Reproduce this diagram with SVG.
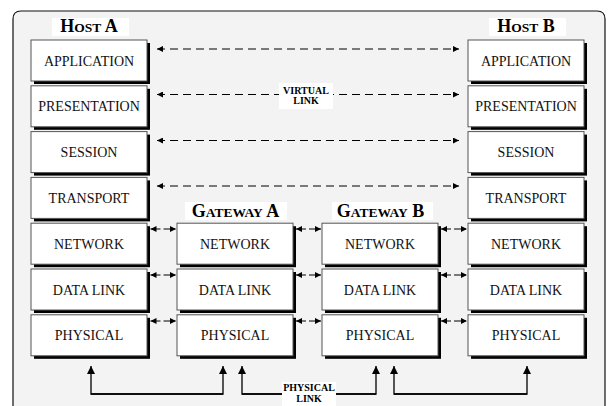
<svg xmlns="http://www.w3.org/2000/svg" width="608" height="406" viewBox="0 0 608 406">
  <defs>
    <style>
      .frame { fill: #f3f3f3; stroke: #111; stroke-width: 1.2; }
      .shadow { fill: #000; }
      .box { fill: #fff; stroke: #555; stroke-width: 1; }
      .lbl { font-family: "Liberation Serif", "Times New Roman", serif; font-size: 14px; fill: #111; text-anchor: middle; }
      .title { font-family: "Liberation Serif", "Times New Roman", serif; font-weight: bold; font-size: 18px; fill: #000; text-anchor: middle; }
      .title .sc { font-size: 13.5px; }
      .tag { font-family: "Liberation Serif", "Times New Roman", serif; font-weight: bold; font-size: 10px; fill: #000; text-anchor: middle; }
      .bg { fill: #fff; }
      .vlink { stroke: #000; stroke-width: 1.1; stroke-dasharray: 8 5; fill: none; marker-start: url(#head); marker-end: url(#head); }
      .hop { stroke: #000; stroke-width: 1.1; stroke-dasharray: 10 3 12; fill: none; marker-start: url(#head); marker-end: url(#head); }
      .plink { stroke: #000; stroke-width: 1.3; fill: none; marker-end: url(#headB); }
    </style>
    <marker id="head" viewBox="0 0 10 10" refX="10" refY="5" markerWidth="7" markerHeight="6" markerUnits="userSpaceOnUse" orient="auto-start-reverse">
      <path d="M0,0 L10,5 L0,10 z" fill="#000"/>
    </marker>
    <marker id="headB" viewBox="0 0 10 10" refX="10" refY="5" markerWidth="9" markerHeight="8" markerUnits="userSpaceOnUse" orient="auto">
      <path d="M0,0 L10,5 L0,10 z" fill="#000"/>
    </marker>
  </defs>

  <rect width="608" height="406" fill="#fff"/>
  <!-- outer frame, open past the bottom edge -->
  <path class="frame" d="M13,420 L13,19 Q13,11 21,11 L597,11 Q605,11 605,19 L605,420"/>

  <!-- connectors -->
  <g id="connectors">
    <!-- virtual links between host layers -->
    <line class="vlink" x1="157" y1="49" x2="459" y2="49"/>
    <line class="vlink" x1="157" y1="94.5" x2="459" y2="94.5"/>
    <line class="vlink" x1="157" y1="140.5" x2="459" y2="140.5"/>
    <line class="vlink" x1="157" y1="186" x2="459" y2="186"/>

    <!-- hop-by-hop exchanges between neighbouring stacks -->
    <line class="hop" x1="150.5" y1="229" x2="176" y2="229"/>
    <line class="hop" x1="150.5" y1="275" x2="176" y2="275"/>
    <line class="hop" x1="150.5" y1="321" x2="176" y2="321"/>
    <line class="hop" x1="296" y1="229" x2="321" y2="229"/>
    <line class="hop" x1="296" y1="275" x2="321" y2="275"/>
    <line class="hop" x1="296" y1="321" x2="321" y2="321"/>
    <line class="hop" x1="441" y1="229" x2="467" y2="229"/>
    <line class="hop" x1="441" y1="275" x2="467" y2="275"/>
    <line class="hop" x1="441" y1="321" x2="467" y2="321"/>

    <!-- physical links -->
    <path class="plink" d="M91,394 L223,394 L223,366"/>
    <path class="plink" d="M223,394 L91,394 L91,366"/>
    <path class="plink" d="M242,394 L376,394 L376,366"/>
    <path class="plink" d="M376,394 L242,394 L242,366"/>
    <path class="plink" d="M394,394 L527,394 L527,366"/>
    <path class="plink" d="M527,394 L394,394 L394,366"/>

    <rect class="bg" x="279" y="83" width="54" height="26"/>
    <text class="tag" x="306" y="93.5">VIRTUAL</text>
    <text class="tag" x="306" y="104">LINK</text>

    <rect class="bg" x="282" y="382" width="54" height="26"/>
    <text class="tag" x="309" y="391">PHYSICAL</text>
    <text class="tag" x="309" y="402">LINK</text>
  </g>

  <!-- Host A -->
  <g id="host-a">
    <rect class="bg" x="52" y="18" width="77" height="18"/>
    <text class="title" x="89" y="32.3">H<tspan class="sc">OST</tspan> A</text>
    <g id="host-a-application"><rect class="shadow" x="34" y="43" width="116" height="41"/><rect class="box" x="31" y="40" width="116" height="41"/><text class="lbl" x="89" y="65.5">APPLICATION</text></g>
    <g id="host-a-presentation"><rect class="shadow" x="34" y="88.8" width="116" height="41"/><rect class="box" x="31" y="85.8" width="116" height="41"/><text class="lbl" x="89" y="111.3">PRESENTATION</text></g>
    <g id="host-a-session"><rect class="shadow" x="34" y="134.6" width="116" height="41"/><rect class="box" x="31" y="131.6" width="116" height="41"/><text class="lbl" x="89" y="157.1">SESSION</text></g>
    <g id="host-a-transport"><rect class="shadow" x="34" y="180.4" width="116" height="41"/><rect class="box" x="31" y="177.4" width="116" height="41"/><text class="lbl" x="89" y="202.9">TRANSPORT</text></g>
    <g id="host-a-network"><rect class="shadow" x="34" y="226.2" width="116" height="41"/><rect class="box" x="31" y="223.2" width="116" height="41"/><text class="lbl" x="89" y="248.7">NETWORK</text></g>
    <g id="host-a-datalink"><rect class="shadow" x="34" y="272" width="116" height="41"/><rect class="box" x="31" y="269" width="116" height="41"/><text class="lbl" x="89" y="294.5">DATA LINK</text></g>
    <g id="host-a-physical"><rect class="shadow" x="34" y="317.8" width="116" height="41"/><rect class="box" x="31" y="314.8" width="116" height="41"/><text class="lbl" x="89" y="340.3">PHYSICAL</text></g>
  </g>

  <!-- Gateway A -->
  <g id="gateway-a">
    <rect class="bg" x="185" y="202" width="102" height="18"/>
    <text class="title" x="235.5" y="216.7">G<tspan class="sc">ATEWAY</tspan> A</text>
    <g id="gateway-a-network"><rect class="shadow" x="180" y="226.2" width="116" height="41"/><rect class="box" x="177" y="223.2" width="116" height="41"/><text class="lbl" x="235" y="248.7">NETWORK</text></g>
    <g id="gateway-a-datalink"><rect class="shadow" x="180" y="272" width="116" height="41"/><rect class="box" x="177" y="269" width="116" height="41"/><text class="lbl" x="235" y="294.5">DATA LINK</text></g>
    <g id="gateway-a-physical"><rect class="shadow" x="180" y="317.8" width="116" height="41"/><rect class="box" x="177" y="314.8" width="116" height="41"/><text class="lbl" x="235" y="340.3">PHYSICAL</text></g>
  </g>

  <!-- Gateway B -->
  <g id="gateway-b">
    <rect class="bg" x="332" y="202" width="101" height="18"/>
    <text class="title" x="380.5" y="216.7">G<tspan class="sc">ATEWAY</tspan> B</text>
    <g id="gateway-b-network"><rect class="shadow" x="325" y="226.2" width="116" height="41"/><rect class="box" x="322" y="223.2" width="116" height="41"/><text class="lbl" x="380" y="248.7">NETWORK</text></g>
    <g id="gateway-b-datalink"><rect class="shadow" x="325" y="272" width="116" height="41"/><rect class="box" x="322" y="269" width="116" height="41"/><text class="lbl" x="380" y="294.5">DATA LINK</text></g>
    <g id="gateway-b-physical"><rect class="shadow" x="325" y="317.8" width="116" height="41"/><rect class="box" x="322" y="314.8" width="116" height="41"/><text class="lbl" x="380" y="340.3">PHYSICAL</text></g>
  </g>

  <!-- Host B -->
  <g id="host-b">
    <rect class="bg" x="489" y="18" width="77" height="18"/>
    <text class="title" x="526" y="32.3">H<tspan class="sc">OST</tspan> B</text>
    <g id="host-b-application"><rect class="shadow" x="471" y="43" width="116" height="41"/><rect class="box" x="468" y="40" width="116" height="41"/><text class="lbl" x="526" y="65.5">APPLICATION</text></g>
    <g id="host-b-presentation"><rect class="shadow" x="471" y="88.8" width="116" height="41"/><rect class="box" x="468" y="85.8" width="116" height="41"/><text class="lbl" x="526" y="111.3">PRESENTATION</text></g>
    <g id="host-b-session"><rect class="shadow" x="471" y="134.6" width="116" height="41"/><rect class="box" x="468" y="131.6" width="116" height="41"/><text class="lbl" x="526" y="157.1">SESSION</text></g>
    <g id="host-b-transport"><rect class="shadow" x="471" y="180.4" width="116" height="41"/><rect class="box" x="468" y="177.4" width="116" height="41"/><text class="lbl" x="526" y="202.9">TRANSPORT</text></g>
    <g id="host-b-network"><rect class="shadow" x="471" y="226.2" width="116" height="41"/><rect class="box" x="468" y="223.2" width="116" height="41"/><text class="lbl" x="526" y="248.7">NETWORK</text></g>
    <g id="host-b-datalink"><rect class="shadow" x="471" y="272" width="116" height="41"/><rect class="box" x="468" y="269" width="116" height="41"/><text class="lbl" x="526" y="294.5">DATA LINK</text></g>
    <g id="host-b-physical"><rect class="shadow" x="471" y="317.8" width="116" height="41"/><rect class="box" x="468" y="314.8" width="116" height="41"/><text class="lbl" x="526" y="340.3">PHYSICAL</text></g>
  </g>
</svg>
